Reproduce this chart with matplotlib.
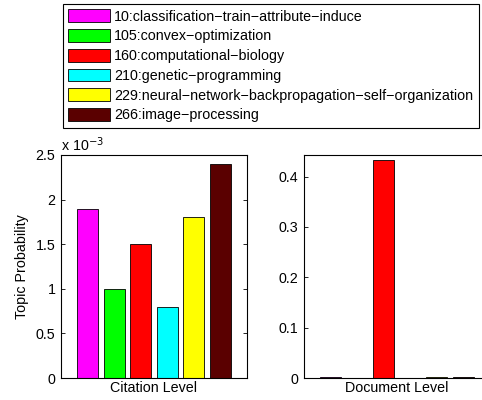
import matplotlib
matplotlib.use("Agg")
import matplotlib.pyplot as plt
import numpy as np

plt.rcParams['font.family'] = ['Liberation Sans', 'DejaVu Sans']
plt.rcParams['font.size'] = 10.3

# ------------------------------------------------------------------
# data
# ------------------------------------------------------------------
topics = ["10:classification\u2212train\u2212attribute\u2212induce",
          "105:convex\u2212optimization",
          "160:computational\u2212biology",
          "210:genetic\u2212programming",
          "229:neural\u2212network\u2212backpropagation\u2212self\u2212organization",
          "266:image\u2212processing"]
colors = ["#FF00FF", "#00FF00", "#FF0000", "#00FFFF", "#FFFF00", "#5A0000"]
citation_vals = [1.9e-3, 1.0e-3, 1.5e-3, 0.8e-3, 1.8e-3, 2.4e-3]
document_vals = [0.0012, 0.0006, 0.434, 0.0008, 0.0014, 0.001]

pitch = 0.142
bar_w = 0.113
offsets = (np.arange(len(topics)) - (len(topics) - 1) / 2) * pitch

fig = plt.figure(figsize=(4.82, 4.00), dpi=100)
ax1 = fig.add_axes([61 / 482, 22 / 400, 186 / 482, 223 / 400])
ax2 = fig.add_axes([304 / 482, 22 / 400, 186 / 482, 223 / 400])

handles = []
for i in range(len(topics)):
    h = ax1.bar(1 + offsets[i], citation_vals[i] * 1e3, width=bar_w,
                color=colors[i], edgecolor='black', linewidth=0.6,
                label=topics[i])
    handles.append(h)
    ax2.bar(1 + offsets[i], document_vals[i], width=bar_w,
            color=colors[i], edgecolor='black', linewidth=0.6)

ax1.set_ylim(0, 2.5)
ax1.set_yticks([0, 0.5, 1, 1.5, 2, 2.5])
ax1.set_yticklabels(["0", "0.5", "1", "1.5", "2", "2.5"])
ax1.set_ylabel("Topic Probability", labelpad=5)
ax1.set_xlabel("Citation Level", labelpad=2)
ax1.text(0.0, 1.005, r"x 10$^{-3}$", transform=ax1.transAxes,
         ha='left', va='bottom', fontsize=10.3)

ax2.set_ylim(0, 0.443)
ax2.set_yticks([0, 0.1, 0.2, 0.3, 0.4])
ax2.set_yticklabels(["0", "0.1", "0.2", "0.3", "0.4"])
ax2.set_xlabel("Document Level", labelpad=2)

for ax in (ax1, ax2):
    ax.set_xlim(0.5, 1.5)
    ax.set_xticks([])
    ax.tick_params(axis='y', direction='in', length=3, width=0.6,
                   right=True, pad=4)
    for s in ax.spines.values():
        s.set_linewidth(0.8)

fig.legend(handles=handles, loc='upper left',
           bbox_to_anchor=(63 / 482, 396 / 400), fontsize=10.3,
           frameon=True, fancybox=False, edgecolor='black',
           framealpha=1, handlelength=2.9, handleheight=1.0,
           labelspacing=0.38, borderpad=0.38, handletextpad=0.3,
           borderaxespad=0)
fig.legends[0].get_frame().set_linewidth(0.8)

fig.savefig("out.png", dpi=100)
